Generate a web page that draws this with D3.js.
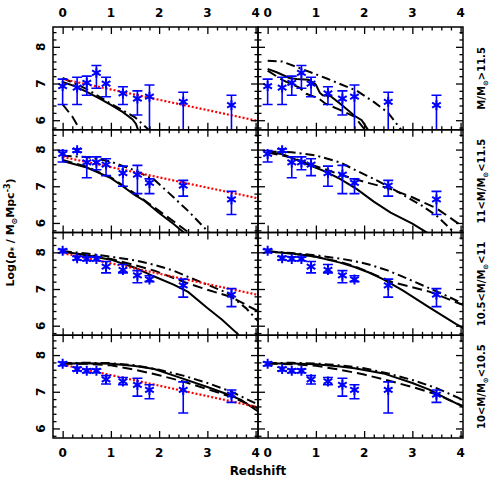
<!DOCTYPE html>
<html lang="en">
<head>
<meta charset="UTF-8">
<title>Stellar mass density vs redshift</title>
<script src="https://d3js.org/d3.v7.min.js"></script>
<style>
  body { margin: 0; background: #fff; }
  svg text { font-family: "DejaVu Sans", sans-serif; font-weight: bold; fill: #000; }
  .tick line { stroke: #000; stroke-width: 1.3px; }
</style>
</head>
<body>
<svg id="chart"></svg>
<script>
const width = 491, height = 491;

// mass bins, one per row (top to bottom)
const binPrefix = ["", "11<", "10.5<", "10<"];
const binSuffix = [">11.5", "<11.5", "<11", "<10.5"];

// observed points (same in both columns)
const redshift = [0, 0.3, 0.5, 0.7, 0.9, 1.25, 1.55, 1.8, 2.5, 3.5];
const rhoObs = [
  [6.93, 6.89, 7.02, 7.29, 7.00, 6.73, 6.59, 6.64, 6.50, 6.41],
  [7.88, 7.98, 7.65, 7.65, 7.59, 7.36, 7.32, 7.09, 7.02, 6.64],
  [8.04, 7.84, 7.82, 7.82, 7.61, 7.52, 7.37, 7.26, 7.10, 6.85],
  [7.76, 7.62, 7.57, 7.57, 7.34, 7.28, 7.19, 7.05, 7.05, 6.92]
];
const rhoHi = [
  [7.12, 7.17, 7.20, 7.49, 7.17, 6.91, 6.80, 6.96, 6.76, 6.68],
  [7.97, 8.02, 7.80, 7.80, 7.75, 7.55, 7.57, 7.20, 7.16, 6.86],
  [8.08, 7.89, 7.88, 7.87, 7.75, 7.67, 7.50, 7.36, 7.27, 7.01],
  [7.81, 7.67, 7.62, 7.62, 7.44, 7.39, 7.37, 7.19, 7.27, 7.05]
];
const rhoLo = [
  [6.43, 6.43, 6.68, 6.87, 6.64, 6.43, 6.14, 5.50, 5.50, 5.50],
  [7.66, 7.93, 7.23, 7.45, 7.29, 7.00, 6.80, 6.80, 6.73, 6.23],
  [7.99, 7.79, 7.77, 7.77, 7.44, 7.44, 7.17, 7.20, 6.78, 6.52],
  [7.71, 7.57, 7.52, 7.52, 7.21, 7.19, 6.88, 6.81, 6.42, 6.71]
];

// red dotted fits (left column only): [z, value] ends
const fitLines = [
  [[0, 7.12], [4.05, 5.98]],
  [[0, 7.80], [4.05, 6.67]],
  [[0, 7.98], [4.05, 6.84]],
  [[0, 7.74], [4.05, 6.58]]
];

// model curves, [row][col] -> list of [z, value]
const modelSolid = [
  [
    [[0,7.04],[0.25,6.93],[0.5,6.77],[0.75,6.6],[1.0,6.42],[1.25,6.22],[1.45,6.02],[1.52,5.9],[1.6,5.6]],
    [[0,7.4],[0.2,7.3],[0.45,7.15],[0.6,7.12],[0.85,7.1],[1.0,6.97],[1.08,6.75],[1.14,6.68],[1.3,6.66],[1.55,6.4],[1.8,6.12],[1.95,6.0],[2.15,5.6]]
  ],
  [
    [[0,7.69],[0.5,7.51],[1.0,7.22],[1.2,7.04],[1.5,6.76],[1.7,6.6],[2.0,6.27],[2.3,5.97],[2.55,5.7]],
    [[0,7.92],[0.3,7.88],[0.6,7.72],[0.9,7.56],[1.2,7.4],[1.5,7.2],[1.85,6.92],[2.2,6.58],[2.55,6.28],[3.0,5.98],[3.35,5.7]]
  ],
  [
    [[0,8.02],[0.5,7.92],[1.0,7.8],[1.5,7.58],[1.9,7.34],[2.3,7.12],[2.6,6.92],[3.0,6.48],[3.3,6.17],[3.65,5.75]],
    [[0,8.02],[0.5,7.97],[1.0,7.88],[1.5,7.72],[1.8,7.6],[2.1,7.45],[2.4,7.26],[2.8,6.96],[3.35,6.5],[3.9,6.05],[4.1,5.9]]
  ],
  [
    [[0,7.77],[0.5,7.78],[1.0,7.76],[1.5,7.7],[1.9,7.62],[2.4,7.4],[3.0,7.13],[3.4,6.94],[3.7,6.78],[4.1,6.42]],
    [[0,7.77],[0.5,7.77],[1.0,7.75],[1.5,7.69],[1.8,7.64],[2.4,7.5],[3.0,7.24],[3.35,7.06],[3.7,6.82],[4.1,6.56]]
  ]
];
const modelDashed = [
  [
    [[0,6.43],[0.2,6.1],[0.42,5.6]],
    [[0,7.35],[0.3,7.1],[0.67,6.88],[0.8,6.72],[1.05,6.6],[1.2,6.45],[1.5,6.28],[1.8,6.1],[2.1,5.6]]
  ],
  [
    [[0,7.72],[0.5,7.53],[1.0,7.24],[1.5,6.8],[2.0,6.33],[2.5,5.85],[2.65,5.7]],
    [[0,7.92],[0.5,7.78],[1.0,7.55],[1.5,7.32],[2.0,7.12],[2.5,6.95],[3.0,6.7],[3.5,6.4],[4.1,5.85]]
  ],
  [
    [[0,8.02],[0.5,7.93],[1.0,7.82],[1.5,7.65],[1.9,7.5],[2.5,7.2],[3.0,6.98],[3.5,6.78],[4.1,6.36]],
    [[0,8.02],[0.5,7.97],[1.0,7.88],[1.5,7.74],[1.8,7.62],[2.2,7.4],[2.6,7.18],[3.0,7.05],[3.35,6.93],[3.85,6.67],[4.1,6.54]]
  ],
  [
    [[0,7.77],[0.5,7.76],[1.0,7.72],[1.5,7.6],[2.0,7.45],[2.5,7.28],[3.0,7.07],[3.5,6.86],[4.1,6.52]],
    [[0,7.77],[0.5,7.75],[1.0,7.71],[1.5,7.6],[2.0,7.47],[2.4,7.34],[3.0,7.13],[3.5,6.93],[4.1,6.58]]
  ]
];
const modelDashDot = [
  [
    [[0,7.15],[0.5,6.85],[1.0,6.45],[1.5,6.08],[1.9,5.6]],
    [[0,7.62],[0.3,7.6],[0.7,7.4],[1.2,7.15],[1.85,6.8],[2.2,6.5],[2.5,6.2],[2.85,5.6]]
  ],
  [
    [[0,7.83],[0.5,7.8],[1.0,7.67],[1.5,7.43],[1.9,7.18],[2.2,6.82],[2.6,6.33],[3.1,5.65]],
    [[0,7.95],[0.5,7.93],[1.0,7.84],[1.5,7.65],[1.85,7.42],[2.2,7.2],[2.55,6.96],[3.2,6.47],[3.5,6.2],[3.9,5.7]]
  ],
  [
    [[0,8.03],[0.5,7.97],[1.0,7.88],[1.5,7.78],[1.9,7.66],[2.3,7.5],[2.6,7.33],[3.0,7.12],[3.4,6.9],[3.8,6.48],[4.1,6.06]],
    [[0,8.03],[0.5,7.98],[1.0,7.92],[1.5,7.83],[1.8,7.76],[2.1,7.67],[2.5,7.5],[2.9,7.28],[3.3,7.05],[3.7,6.82],[4.1,6.57]]
  ],
  [
    [[0,7.78],[0.5,7.79],[1.0,7.78],[1.5,7.72],[2.0,7.6],[2.5,7.44],[3.0,7.24],[3.5,7.0],[4.1,6.62]],
    [[0,7.78],[0.5,7.79],[1.0,7.77],[1.5,7.72],[2.0,7.64],[2.5,7.5],[3.0,7.32],[3.5,7.1],[4.1,6.75]]
  ]
];

const xMajor = [0, 1, 2, 3, 4];
const yMajor = [6, 7, 8];

// layout
const marginLeft = 53, marginTop = 27;
const pw = 205, ph = 102.75;

const svg = d3.select('#chart')
  .attr('width', width)
  .attr('height', height);

const x = d3.scaleLinear().domain([-0.2, 4.05]).range([0, pw]);
const y = d3.scaleLinear().domain([5.74, 8.54]).range([ph, 0]);

const line = d3.line().x(d => x(d[0])).y(d => y(d[1]));
const xMinor = d3.range(0, 4.01, 0.2).map(v => +v.toFixed(1)).filter(v => !xMajor.includes(v));
const yMinor = d3.range(5.8, 8.55, 0.2).map(v => +v.toFixed(1)).filter(v => !yMajor.includes(v));

svg.append('defs').append('clipPath').attr('id', 'panelClip')
  .append('rect').attr('width', pw).attr('height', ph);

const star = d3.symbol().type(d3.symbolAsterisk).size(70);

function addTicks(g, axisFn, vals, size, transform) {
  g.append('g')
    .attr('transform', transform)
    .call(axisFn.tickValues(vals).tickSize(-size).tickFormat(''))
    .call(a => a.select('.domain').remove());
}

for (let r = 0; r < 4; r++) {
  for (let c = 0; c < 2; c++) {
    const g = svg.append('g')
      .attr('transform', `translate(${marginLeft + c * pw},${marginTop + r * ph})`);
    const inner = g.append('g').attr('clip-path', 'url(#panelClip)');

    // models
    inner.append('path').attr('d', line(modelSolid[r][c]))
      .attr('fill', 'none').attr('stroke', '#000').attr('stroke-width', 2);
    inner.append('path').attr('d', line(modelDashed[r][c]))
      .attr('fill', 'none').attr('stroke', '#000').attr('stroke-width', 2)
      .attr('stroke-dasharray', '10,5');
    inner.append('path').attr('d', line(modelDashDot[r][c]))
      .attr('fill', 'none').attr('stroke', '#000').attr('stroke-width', 2)
      .attr('stroke-dasharray', '9,4,2,4');

    if (c === 0) {
      inner.append('path').attr('d', line(fitLines[r]))
        .attr('fill', 'none').attr('stroke', '#ff0000').attr('stroke-width', 2.2)
        .attr('stroke-dasharray', '2,2');
    }

    // error bars
    const pts = redshift.map((z, i) => ({ z, v: rhoObs[r][i], lo: rhoLo[r][i], hi: rhoHi[r][i] }));
    const eb = inner.selectAll('.eb').data(pts).join('g').attr('class', 'eb')
      .attr('stroke', '#0000ff').attr('stroke-width', 1.6);
    eb.append('line')
      .attr('x1', d => x(d.z)).attr('x2', d => x(d.z))
      .attr('y1', d => y(d.lo)).attr('y2', d => y(d.hi));
    eb.append('line')
      .attr('x1', d => x(d.z) - 5).attr('x2', d => x(d.z) + 5)
      .attr('y1', d => y(d.lo)).attr('y2', d => y(d.lo));
    eb.append('line')
      .attr('x1', d => x(d.z) - 5).attr('x2', d => x(d.z) + 5)
      .attr('y1', d => y(d.hi)).attr('y2', d => y(d.hi));
    inner.selectAll('.star').data(pts).join('path').attr('class', 'star')
      .attr('transform', d => `translate(${x(d.z)},${y(d.v)})`)
      .attr('d', star)
      .attr('fill', 'none').attr('stroke', '#0000ff').attr('stroke-width', 2);

    // inward ticks on all sides
    addTicks(g, d3.axisBottom(x), xMajor, 7, `translate(0,${ph})`);
    addTicks(g, d3.axisBottom(x), xMinor, 3.5, `translate(0,${ph})`);
    addTicks(g, d3.axisTop(x), xMajor, 7, 'translate(0,0)');
    addTicks(g, d3.axisTop(x), xMinor, 3.5, 'translate(0,0)');
    addTicks(g, d3.axisLeft(y), yMajor, 7, 'translate(0,0)');
    addTicks(g, d3.axisLeft(y), yMinor, 3.5, 'translate(0,0)');
    addTicks(g, d3.axisRight(y), yMajor, 7, `translate(${pw},0)`);
    addTicks(g, d3.axisRight(y), yMinor, 3.5, `translate(${pw},0)`);

    g.append('rect').attr('width', pw).attr('height', ph)
      .attr('fill', 'none').attr('stroke', '#000').attr('stroke-width', 1.5);

    // y tick labels, rotated, left column only
    if (c === 0) {
      g.selectAll('.ylab').data(yMajor).join('text')
        .attr('transform', d => `translate(-8,${y(d)}) rotate(-90)`)
        .attr('text-anchor', 'middle')
        .style('font-size', '12px')
        .text(d => d);
    }

    // x tick labels on top and bottom rows
    if (r === 0) {
      g.selectAll('.xtop').data(xMajor).join('text')
        .attr('x', d => x(d)).attr('y', -10)
        .attr('text-anchor', 'middle')
        .style('font-size', '12px')
        .text(d => d);
    }
    if (r === 3) {
      g.selectAll('.xbot').data(xMajor).join('text')
        .attr('x', d => x(d)).attr('y', ph + 19)
        .attr('text-anchor', 'middle')
        .style('font-size', '12px')
        .text(d => d);
    }
  }

  // mass bin label on the right
  const t = svg.append('text')
    .attr('transform', `translate(${marginLeft + 2 * pw + 22},${marginTop + r * ph + ph / 2}) rotate(-90)`)
    .attr('text-anchor', 'middle')
    .style('font-size', '10px');
  t.append('tspan').text(binPrefix[r] + 'M/M');
  t.append('tspan').attr('dy', 3).style('font-size', '7px').text('\u2299');
  t.append('tspan').attr('dy', -3).text(binSuffix[r]);
}

// axis titles
svg.append('text')
  .attr('x', marginLeft + pw).attr('y', 475)
  .attr('text-anchor', 'middle')
  .style('font-size', '12px')
  .text('Redshift');

const yt = svg.append('text')
  .attr('transform', `translate(14,${marginTop + 2 * ph}) rotate(-90)`)
  .attr('text-anchor', 'middle')
  .style('font-size', '11px');
yt.append('tspan').text('Log(\u03c1');
yt.append('tspan').attr('dy', 3).style('font-size', '8px').text('*');
yt.append('tspan').attr('dy', -3).text(' / M');
yt.append('tspan').attr('dy', 3).style('font-size', '8px').text('\u2299');
yt.append('tspan').attr('dy', -3).text('Mpc');
yt.append('tspan').attr('dy', -4).style('font-size', '8px').text('-3');
yt.append('tspan').attr('dy', 4).text(')');
</script>
</body>
</html>
